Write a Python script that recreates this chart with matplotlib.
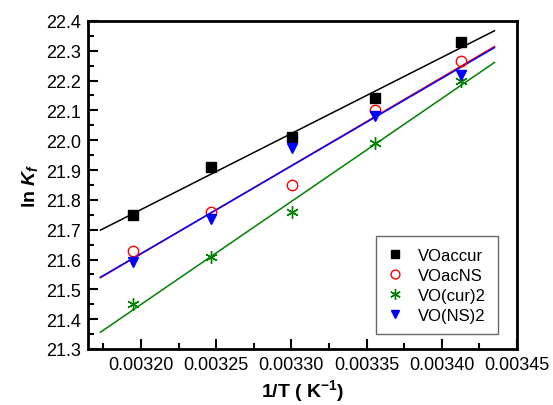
import numpy as np
import matplotlib.pyplot as plt
from matplotlib.ticker import MultipleLocator, FormatStrFormatter

plt.rcParams['font.family'] = ['Liberation Sans', 'DejaVu Sans']
plt.rcParams['mathtext.fontset'] = 'custom'
plt.rcParams['mathtext.it'] = 'Liberation Sans:italic:bold'
plt.rcParams['mathtext.rm'] = 'Liberation Sans:bold'

# data: 1/T for T = 313, 308, 303, 298, 293 K
inv_T = [1 / 313, 1 / 308, 1 / 303, 1 / 298, 1 / 293]
vo_accur = [21.75, 21.91, 22.01, 22.14, 22.33]
vo_acns = [21.63, 21.76, 21.85, 22.10, 22.265]
vo_cur2 = [21.45, 21.61, 21.76, 21.99, 22.20]
vo_ns2 = [21.59, 21.735, 21.975, 22.08, 22.22]
fit_range = [0.003173, 0.003435]

series = [
    ('VOaccur', vo_accur, 's', 'black', 'black', 'black'),
    ('VOacNS', vo_acns, 'o', 'none', 'red', 'red'),
    ('VO(cur)2', vo_cur2, '*', 'green', 'green', 'green'),
    ('VO(NS)2', vo_ns2, 'v', 'blue', 'blue', 'blue'),
]

fig = plt.figure(figsize=(5.53, 4.06), dpi=100)
ax = fig.add_axes([0.159, 0.138, 0.776, 0.808])

# linear fit lines
xs = np.array(fit_range)
for name, y, marker, fc, ec, lc in series:
    slope, icpt = np.polyfit(inv_T, y, 1)
    ax.plot(xs, slope * xs + icpt, color=lc, lw=1.1, zorder=2)

# points
for name, y, marker, fc, ec, lc in series:
    if marker == '*':
        ax.plot(inv_T, y, linestyle='none', marker=(6, 2, 0), ms=9, mec=ec,
                mew=1.0, label=name, zorder=3)
    elif marker == 'o':
        ax.plot(inv_T, y, linestyle='none', marker='o', ms=7.5, mfc='none', mec=ec,
                mew=1.0, label=name, zorder=3)
    elif marker == 's':
        ax.plot(inv_T, y, linestyle='none', marker='s', ms=6.5, mfc=fc, mec=ec,
                label=name, zorder=3)
    else:
        ax.plot(inv_T, y, linestyle='none', marker='v', ms=7.5, mfc=fc, mec=ec,
                label=name, zorder=3)

ax.set_xlim(0.0031647, 0.00345)
ax.set_ylim(21.3, 22.4)
ax.xaxis.set_major_locator(MultipleLocator(0.00005))
ax.xaxis.set_minor_locator(MultipleLocator(0.000025))
ax.xaxis.set_major_formatter(FormatStrFormatter('%.5f'))
ax.yaxis.set_major_locator(MultipleLocator(0.1))
ax.yaxis.set_minor_locator(MultipleLocator(0.05))
ax.yaxis.set_major_formatter(FormatStrFormatter('%.1f'))

ax.tick_params(which='both', direction='in', top=False, right=False,
               labelsize=13, width=1.5, pad=5)
ax.tick_params(which='major', length=7)
ax.tick_params(which='minor', length=4)
for s in ax.spines.values():
    s.set_linewidth(2)

ax.set_xlabel('1/T ( K$^{-1}$)', fontsize=14, fontweight='bold', labelpad=3)
ax.set_ylabel('ln $K_f$', fontsize=14, fontweight='bold', labelpad=4)

leg = ax.legend(loc='lower right', bbox_to_anchor=(0.955, 0.045), fontsize=12,
                frameon=True, fancybox=False, edgecolor='#444444',
                handlelength=0.8, handletextpad=1.0, borderpad=0.7,
                labelspacing=0.3, borderaxespad=0, markerscale=0.85)
leg.get_frame().set_linewidth(1.0)

fig.savefig('out.png', dpi=100)
